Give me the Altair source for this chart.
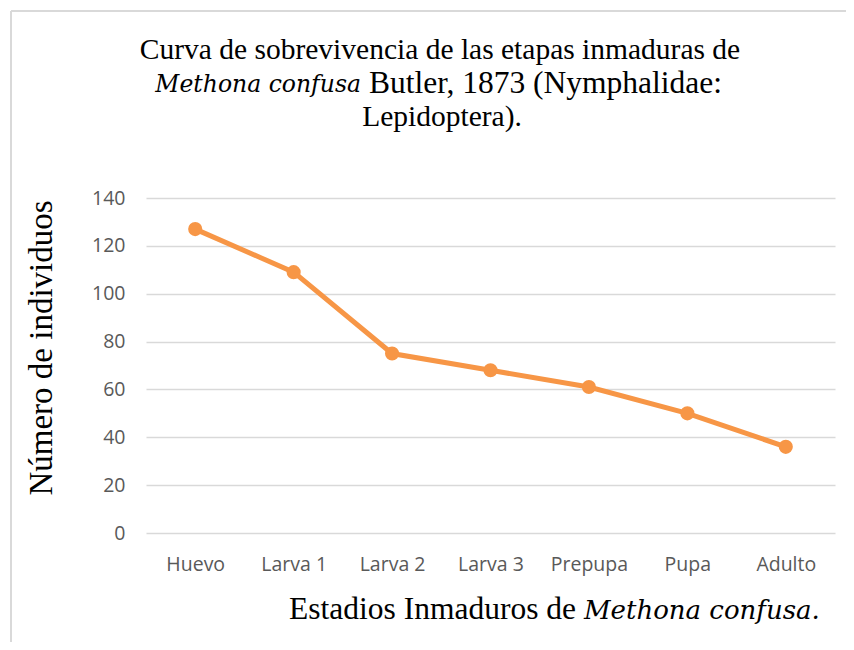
import altair as alt
import pandas as pd

# ---- data ----
stages = ["Huevo", "Larva 1", "Larva 2", "Larva 3", "Prepupa", "Pupa", "Adulto"]
individuals = [127, 109, 75, 68, 61, 50, 36]
y_ticks = [0, 20, 40, 60, 80, 100, 120, 140]

title_line1 = "Curva de sobrevivencia de las etapas inmaduras de"
title_line2_italic = "Methona confusa"
title_line2_regular = "Butler, 1873 (Nymphalidae:"
title_line3 = "Lepidoptera)."
y_title = "Número de individuos"
x_title_regular = "Estadios Inmaduros de"
x_title_italic = "Methona confusa."

df = pd.DataFrame({"stage": stages, "n": individuals})

# ---- layout helpers (page pixel -> plot coordinates) ----
PLOT_X0, PLOT_Y0 = 146, 198
W, H = 689, 335


def px(x):
    return x - PLOT_X0


def py(y):
    return y - PLOT_Y0


SERIF = "Liberation Serif"
SERIF_IT = "DejaVu Serif, Liberation Serif, serif"
SANS = "Open Sans"
ORANGE = "#F79646"
GRID = "#d9d9d9"

x_enc = alt.X(
    "stage:N",
    sort=stages,
    scale=alt.Scale(type="point", padding=0.5),
    axis=alt.Axis(
        title=None, labelAngle=0, domain=False, ticks=False, grid=False,
        labelPadding=22, labelFont=SANS, labelFontSize=19.5, labelColor="#595959",
    ),
)
y_enc = alt.Y(
    "n:Q",
    scale=alt.Scale(domain=[0, 140], nice=False),
    axis=alt.Axis(
        title=None, values=y_ticks, domain=False, ticks=False, grid=True,
        gridColor=GRID, gridWidth=1.5, labelPadding=21,
        labelFont=SANS, labelFontSize=19.5, labelColor="#595959",
    ),
)

base = alt.Chart(df)
line = base.mark_line(color=ORANGE, strokeWidth=5).encode(x=x_enc, y=y_enc)
points = base.mark_point(filled=True, color=ORANGE, size=200, opacity=1).encode(x=x_enc, y=y_enc)


def text_layer(txt, x, y, size, align="center", style="normal", angle=0, font=SERIF):
    return alt.Chart(alt.Data(values=[{"t": txt}])).mark_text(
        text=txt, align=align, baseline="middle", font=font, fontSize=size,
        fontStyle=style, angle=angle, color="#000000",
    ).encode(x=alt.value(px(x)), y=alt.value(py(y)))


TS = 29.5
AS = 31.5
texts = [
    text_layer(title_line1, 440, 50, TS),
    text_layer(title_line2_italic, 361, 85, 23.5, align="right", style="italic", font=SERIF_IT),
    text_layer(title_line2_regular, 369, 84, 31.5, align="left"),
    text_layer(title_line3, 442, 117, TS),
    text_layer(y_title, 42, 348, 33, angle=270),
    text_layer(x_title_regular, 576, 610, AS, align="right"),
    text_layer(x_title_italic, 584, 611, 26, align="left", style="italic", font=SERIF_IT),
]

one = alt.Data(values=[{"k": 1}])
border_left = alt.Chart(one).mark_rule(color=GRID, strokeWidth=2).encode(
    x=alt.value(px(11)), y=alt.value(py(11)), y2=alt.value(py(660))
)
border_top = alt.Chart(one).mark_rule(color=GRID, strokeWidth=2).encode(
    x=alt.value(px(11)), x2=alt.value(px(860)), y=alt.value(py(11))
)

chart = alt.layer(
    border_left, border_top, line, points, *texts
).properties(
    width=W, height=H,
    autosize=alt.AutoSizeParams(type="none"),
    padding={"left": PLOT_X0 - 8, "top": PLOT_Y0 - 8, "right": 838 - (PLOT_X0 - 8) - W, "bottom": 634 - (PLOT_Y0 - 8) - H},
    background="white",
).configure_view(stroke=None)

chart.save("out.html", embed_options={"renderer": "svg", "actions": False})
